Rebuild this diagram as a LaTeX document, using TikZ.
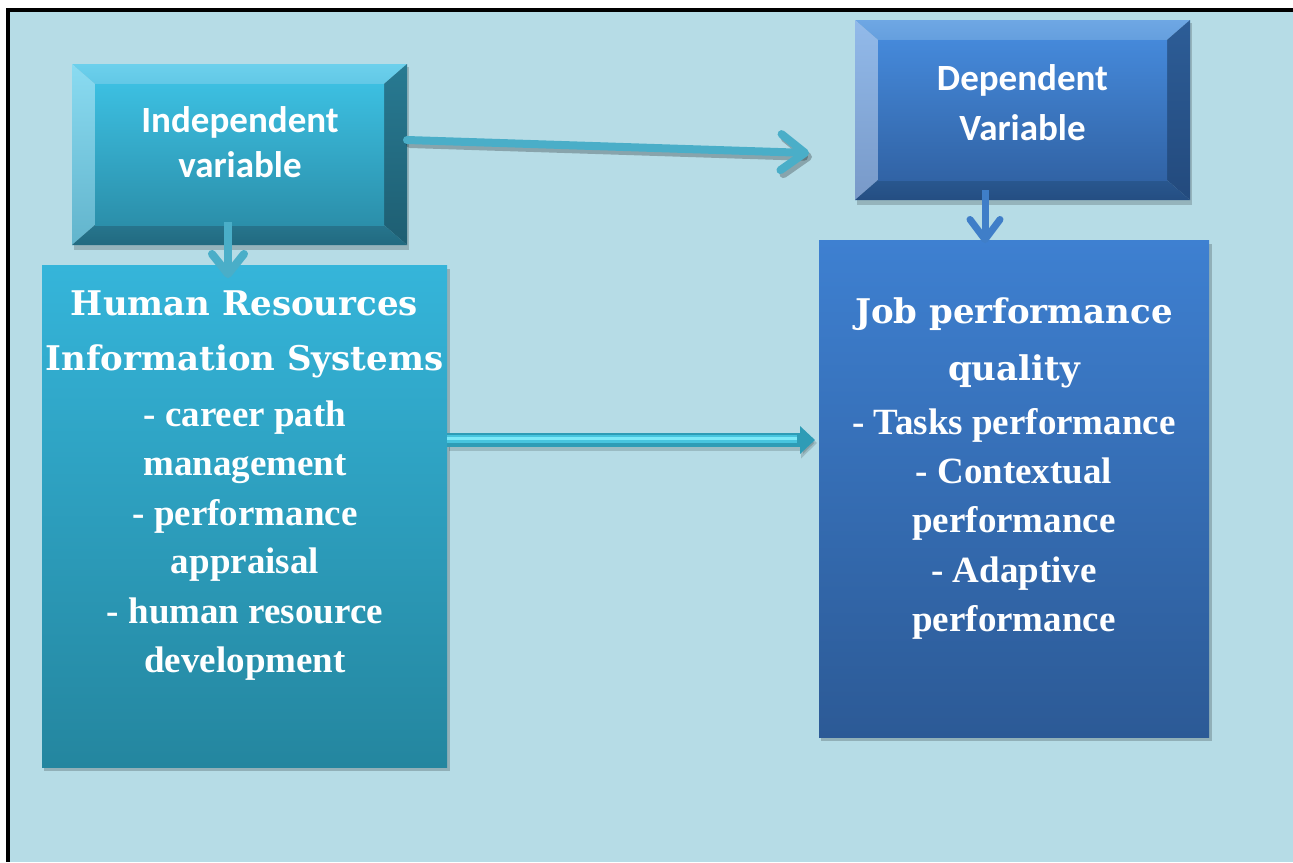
\documentclass[tikz,border=0pt]{standalone}
\usepackage{fontspec}
\usetikzlibrary{arrows.meta,calc}
\newfontfamily\calib{Carlito}
\newfontfamily\slab{DejaVu Serif}
\newfontfamily\tnr{Liberation Serif}
\definecolor{bg}{HTML}{B6DCE6}
% independent box colours
\definecolor{indtopA}{HTML}{6CD0EC}\definecolor{indtopB}{HTML}{62C8E6}
\definecolor{indleftA}{HTML}{8ADBF1}\definecolor{indleftB}{HTML}{62B4CC}
\definecolor{indrightA}{HTML}{287A92}\definecolor{indrightB}{HTML}{1E5E72}
\definecolor{indbotA}{HTML}{27758D}\definecolor{indbotB}{HTML}{216A80}
\definecolor{indfaceA}{HTML}{3CBFE1}\definecolor{indfaceB}{HTML}{2B8FAA}
% dependent box colours
\definecolor{deptopA}{HTML}{6EA7E4}\definecolor{deptopB}{HTML}{659FDE}
\definecolor{depleftA}{HTML}{92BAEA}\definecolor{depleftB}{HTML}{7899C8}
\definecolor{deprightA}{HTML}{2D5D97}\definecolor{deprightB}{HTML}{234A7D}
\definecolor{depbotA}{HTML}{29578F}\definecolor{depbotB}{HTML}{244E82}
\definecolor{depfaceA}{HTML}{4589DA}\definecolor{depfaceB}{HTML}{3163A5}
% big boxes
\definecolor{hrisA}{HTML}{35B5DA}\definecolor{hrisB}{HTML}{24869F}
\definecolor{jobA}{HTML}{3E80D1}\definecolor{jobB}{HTML}{2C5A96}
% arrows
\definecolor{arrcyan}{HTML}{4AAEC8}
\definecolor{arrblue}{HTML}{3F7EC8}
\definecolor{barrdark}{HTML}{2E9CB6}
\definecolor{barrmid}{HTML}{48C4DE}
\definecolor{barrhi}{HTML}{7DE9F8}
\newcommand\bevelbox[7]{%
  \fill[black,opacity=0.18] ({#1+2},{#2+3}) rectangle ({#3+2},{#4+5});
  \shade[top color=#7topA,bottom color=#7topB] (#1,#2) -- (#3,#2) -- ({#3-#5},{#2+#6}) -- ({#1+#5},{#2+#6}) -- cycle;
  \shade[top color=#7leftA,bottom color=#7leftB] (#1,#2) -- ({#1+#5},{#2+#6}) -- ({#1+#5},{#4-#6}) -- (#1,#4) -- cycle;
  \shade[top color=#7rightA,bottom color=#7rightB] (#3,#2) -- (#3,#4) -- ({#3-#5},{#4-#6}) -- ({#3-#5},{#2+#6}) -- cycle;
  \shade[top color=#7botA,bottom color=#7botB] (#1,#4) -- (#3,#4) -- ({#3-#5},{#4-#6}) -- ({#1+#5},{#4-#6}) -- cycle;
  \shade[top color=#7faceA,bottom color=#7faceB] ({#1+#5},{#2+#6}) rectangle ({#3-#5},{#4-#6});
}
\tikzset{
  anchorbox/.style={inner sep=0pt,outer sep=0pt,draw=none,fill=none},
  lbl/.style={inner sep=0pt,anchor=base,text=white},
  sanslbl/.style={lbl,font=\calib\bfseries\fontsize{37}{44}\selectfont},
  titlelbl/.style={lbl,font=\slab\bfseries\fontsize{34}{40}\selectfont},
  bulletlbl/.style={lbl,font=\tnr\bfseries\fontsize{37}{44}\selectfont},
  linearrow/.style={line width=8pt,line cap=round,-{Straight Barb[length=24pt,width=36pt,round]}},
  shadowline/.style={linearrow,draw=black,opacity=0.25}
}
\begin{document}
\begin{tikzpicture}[x=1pt,y=-1pt]
\useasboundingbox (0,0) rectangle (1293,862);
\fill[white] (0,0) rectangle (1293,862);
\fill[bg] (8,10) rectangle (1293,862);
\fill[black] (6,8) rectangle (1293,12);
\fill[black] (6,8) rectangle (10,862);

% big boxes
\fill[black,opacity=0.2] (44,269) rectangle (450,771);
\shade[top color=hrisA,bottom color=hrisB] (42,265) rectangle (447,767);
\fill[black,opacity=0.2] (821,244) rectangle (1212,741);
\shade[top color=jobA,bottom color=jobB] (819,240) rectangle (1209,737);
\node[anchorbox,minimum width=405pt,minimum height=502pt] (hris) at (244.5,516) {};
\node[anchorbox,minimum width=390pt,minimum height=497pt] (job) at (1014,488.5) {};

% bevel boxes
\bevelbox{72}{64}{407}{245}{23}{20}{ind}
\bevelbox{855}{20}{1190}{200}{23}{20}{dep}
\node[anchorbox,minimum width=335pt,minimum height=181pt] (ind) at (239.5,154.5) {};
\node[anchorbox,minimum width=335pt,minimum height=180pt] (dep) at (1022.5,110) {};
\coordinate (a1end) at (809,153);

% arrows
\draw[shadowline] ([xshift=3pt,yshift=-4pt]ind.east) ++(0,-14.5) -- ([xshift=3pt,yshift=-4pt]a1end);
\draw[linearrow,draw=arrcyan] ([yshift=14.5pt]ind.east) -- (a1end);
\draw[line width=8pt,draw=arrcyan,-{Straight Barb[length=20pt,width=32pt,round]}] ([xshift=-11.5pt,yshift=23pt]ind.south) -- ([xshift=-16.5pt,yshift=-13pt]hris.north);
\draw[line width=7pt,draw=arrblue,-{Straight Barb[length=20pt,width=30pt,round]}] ([xshift=-37.5pt,yshift=10pt]dep.south) -- ([xshift=-29pt,yshift=-3pt]job.north);
% block arrow
\draw[line width=15pt,draw=black,opacity=0.15,-{Triangle[length=16pt,width=30pt]}] ([xshift=2pt,yshift=73pt]hris.east) -- ([xshift=-2pt,yshift=45.5pt]job.west);
\draw[line width=14pt,draw=barrdark,-{Triangle[length=15pt,width=27pt]}] ([yshift=76pt]hris.east) -- ([xshift=-4pt,yshift=48.5pt]job.west);
\draw[line width=8pt,draw=barrmid] ([yshift=77pt]hris.east) -- ([xshift=-22pt,yshift=49.5pt]job.west);
\draw[line width=3pt,draw=barrhi] ([yshift=78pt]hris.east) -- ([xshift=-22pt,yshift=50.5pt]job.west);

% texts
\node[sanslbl] (indt1) at (240,132) {Independent};
\node[sanslbl] (indt2) at (240,177) {variable};
\node[sanslbl] (dept1) at (1022.5,90) {Dependent};
\node[sanslbl] (dept2) at (1022.5,140) {Variable};

\node[titlelbl] (hrist1) at (244.5,315) {Human Resources};
\node[titlelbl] (hrist2) at (244.5,370) {Information Systems};
\foreach \yy/\tx [count=\i] in {426/- career path,475/management,525/- performance,573/appraisal,623/- human resource,672/development}
  \node[bulletlbl] (hrisb\i) at (245,\yy) {\tx};

\node[titlelbl] (jobt1) at (1014,323) {Job performance};
\node[titlelbl] (jobt2) at (1014,380) {quality};
\foreach \yy/\tx [count=\i] in {434/- Tasks performance,483/- Contextual,532/performance,582/- Adaptive,631/performance}
  \node[bulletlbl] (jobb\i) at (1014,\yy) {\tx};
\end{tikzpicture}
\end{document}
